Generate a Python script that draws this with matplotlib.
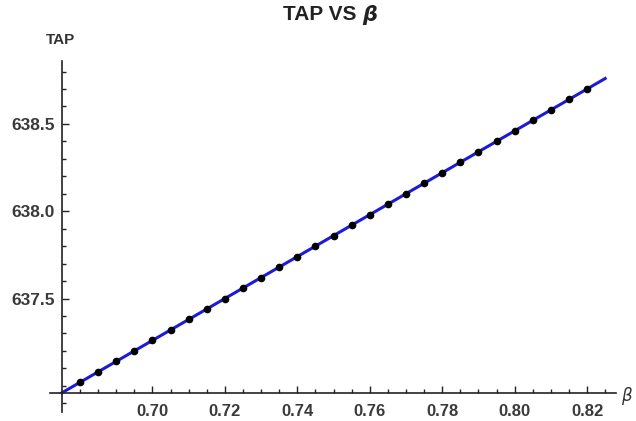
import numpy as np
import matplotlib
matplotlib.use("Agg")
import matplotlib.pyplot as plt
from matplotlib.ticker import FixedLocator

plt.rcParams["font.family"] = ["Liberation Sans", "DejaVu Sans"]
plt.rcParams["mathtext.fontset"] = "dejavusans"

beta = [0.680, 0.685, 0.690, 0.695, 0.700, 0.705, 0.710, 0.715, 0.720, 0.725,
        0.730, 0.735, 0.740, 0.745, 0.750, 0.755, 0.760, 0.765, 0.770, 0.775,
        0.780, 0.785, 0.790, 0.795, 0.800, 0.805, 0.810, 0.815, 0.820]
tap = [637.02, 637.08, 637.14, 637.20, 637.26, 637.32, 637.38, 637.44, 637.50, 637.56,
       637.62, 637.68, 637.74, 637.80, 637.86, 637.92, 637.98, 638.04, 638.10, 638.16,
       638.22, 638.28, 638.34, 638.40, 638.46, 638.52, 638.58, 638.64, 638.70]

# fitted line endpoints
fit_beta = [0.675, 0.825]
fit_tap = [636.96, 638.76]

x_major = [0.70, 0.72, 0.74, 0.76, 0.78, 0.80, 0.82]
x_labels = ["0.70", "0.72", "0.74", "0.76", "0.78", "0.80", "0.82"]
y_major = [637.5, 638.0, 638.5]
y_labels = ["637.5", "638.0", "638.5"]


def main() -> None:
    fig = plt.figure(figsize=(6.36, 4.21), dpi=100)
    ax = fig.add_axes([0.0786, 0.0214, 0.89, 0.8336])

    ax.plot(fit_beta, fit_tap, color="#1c1cd8", linewidth=2.2, zorder=2)
    ax.plot(beta, tap, "o", color="black", markersize=4.5, zorder=3)

    ax.set_xlim(0.6717, 0.828)
    ax.set_ylim(636.85, 638.86)

    # Mathematica-style crossing axes
    ax.spines["left"].set_position(("data", 0.675))
    ax.spines["bottom"].set_position(("data", 636.96))
    ax.spines["top"].set_visible(False)
    ax.spines["right"].set_visible(False)
    for s in ("left", "bottom"):
        ax.spines[s].set_linewidth(1.2)
        ax.spines[s].set_color("#222222")

    ax.set_xticks(x_major)
    ax.set_xticklabels(x_labels)
    ax.set_yticks(y_major)
    ax.set_yticklabels(y_labels)
    ax.xaxis.set_minor_locator(FixedLocator(np.round(np.arange(0.680, 0.8276, 0.005), 3)))
    ax.yaxis.set_minor_locator(FixedLocator(np.round(np.arange(636.9, 638.85, 0.1), 1)))

    ax.tick_params(which="both", direction="in", color="#222222", width=1.0)
    ax.tick_params(which="major", length=5)
    ax.tick_params(which="minor", length=3)
    ax.tick_params(axis="x", labelsize=12, pad=8, labelcolor="#3a3a3a")
    ax.tick_params(axis="y", labelsize=12.5, pad=5, labelcolor="#3a3a3a")
    for lab in ax.get_xticklabels() + ax.get_yticklabels():
        lab.set_fontweight("bold")

    fig.text(362 / 636, 1 - 15 / 421, "TAP VS ", ha="right", va="center",
             fontsize=15, fontweight="bold", color="#222222")
    fig.text(362 / 636, 1 - 15 / 421, r"$\boldsymbol{\beta}$", ha="left", va="center",
             fontsize=15, color="#222222")
    fig.text(60 / 636, 1 - 40 / 421, "TAP", ha="center", va="center",
             fontsize=11, fontweight="bold", color="#333333")
    fig.text(621 / 636, 1 - 396 / 421, r"$\beta$", ha="left", va="center",
             fontsize=12, color="#333333")

    fig.savefig("out.png", dpi=100, facecolor="white")
    plt.close(fig)


if __name__ == "__main__":
    main()
